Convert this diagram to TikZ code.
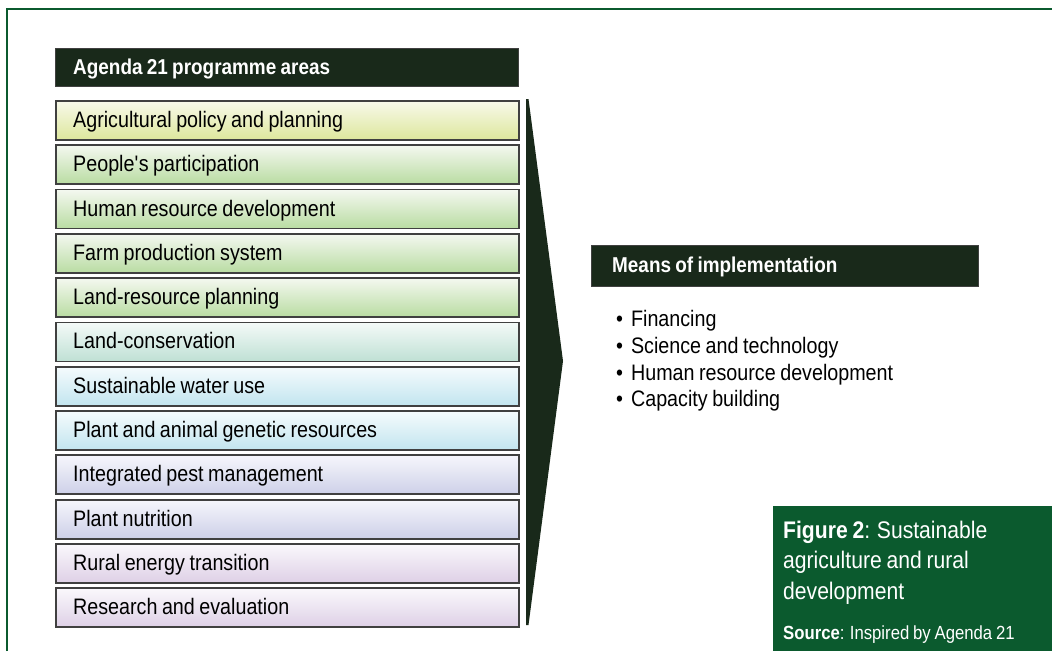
\documentclass[tikz,border=0pt]{standalone}
\usepackage{fontspec}
\setmainfont{Liberation Sans}[FakeStretch=0.88, WordSpace=0.82]
\begin{document}
\definecolor{framegreen}{HTML}{0B5A2E}
\definecolor{darkbar}{HTML}{19291A}
\definecolor{boxline}{HTML}{404040}
\definecolor{cAt}{HTML}{F8F9EA}\definecolor{cAb}{HTML}{DDE79C}
\definecolor{cBt}{HTML}{F4F8F0}\definecolor{cBb}{HTML}{B9DCA2}
\definecolor{cCt}{HTML}{F4FAF8}\definecolor{cCb}{HTML}{BFE0D4}
\definecolor{cDt}{HTML}{F5FBFD}\definecolor{cDb}{HTML}{C2E5EF}
\definecolor{cEt}{HTML}{F6F6FC}\definecolor{cEb}{HTML}{CDD0E8}
\definecolor{cFt}{HTML}{FAF8FC}\definecolor{cFb}{HTML}{DED0E6}
\begin{tikzpicture}[x=1pt,y=-1pt,
  bar/.style={fill=darkbar, draw=boxline, line width=0.8pt, anchor=north west,
    inner sep=0pt},
  bartext/.style={anchor=west, text=white, inner sep=0pt,
    font=\fontsize{21.5}{24}\selectfont\bfseries, text height=14pt, text depth=0pt},
  area/.style={draw=boxline, line width=1.8pt, anchor=north west,
    minimum width=463pt, minimum height=39pt, inner sep=0pt,
    top color=#1t, bottom color=#1b},
  areatext/.style={anchor=west, inner sep=0pt, font=\fontsize{22.4}{24}\selectfont,
    text height=14pt, text depth=0pt},
  item/.style={anchor=base west, font=\fontsize{22.4}{24}\selectfont, inner sep=0pt},
  caption/.style={anchor=base west, text=white, inner sep=0pt}]
\useasboundingbox (0,0) rectangle (1052,651);
\fill[white] (0,0) rectangle (1052,651);

% page frame (top and left rules)
\draw[framegreen, line width=2.6pt] (7,651) -- (7,9) -- (1052,9);

% programme areas
\node[bar, minimum width=463pt, minimum height=38pt] (hdr) at (55,48) {};
\node[bartext] (hdrt) at ([xshift=18pt]hdr.west) {Agenda 21 programme areas};
\foreach \t/\c [count=\i from 0] in {
  Agricultural policy and planning/cA,
  People\textquotesingle s participation/cB,
  Human resource development/cB,
  Farm production system/cB,
  Land-resource planning/cB,
  Land-conservation/cC,
  Sustainable water use/cD,
  Plant and animal genetic resources/cD,
  Integrated pest management/cE,
  Plant nutrition/cE,
  Rural energy transition/cF,
  Research and evaluation/cF}
{
  \node[area=\c] (p\i) at (55,{100+44.3*\i}) {};
  \node[areatext] (p\i t) at ([xshift=18pt]p\i.west) {\t};
}

% chevron pointing to the means of implementation
\fill[darkbar] (526,99) -- (528.5,99) -- (563,361) -- (528.5,625) -- (526,625) -- cycle;

% means of implementation
\node[bar, minimum width=387pt, minimum height=41pt] (mhdr) at (591,245) {};
\node[bartext] (mhdrt) at ([xshift=21pt]mhdr.west) {Means of implementation};
\node[item] (m1) at (616,326.7) {•\hspace{8pt}Financing};
\node[item] (m2) at (616,353.4) {•\hspace{8pt}Science and technology};
\node[item] (m3) at (616,380.1) {•\hspace{8pt}Human resource development};
\node[item] (m4) at (616,406.8) {•\hspace{8pt}Capacity building};

% figure caption
\fill[framegreen] (773,506) rectangle (1052,651);
\begin{scope}[every node/.style={caption, font=\fontsize{24}{30}\selectfont}]
  \node (cap1) at (783,538) {\textbf{Figure 2}: Sustainable};
  \node (cap2) at (783,568.5) {agriculture and rural};
  \node (cap3) at (783,599) {development};
\end{scope}
\node[caption, font=\fontsize{19}{22}\selectfont] (src) at (783,639)
  {\textbf{Source}: Inspired by Agenda 21};
\end{tikzpicture}
\end{document}
